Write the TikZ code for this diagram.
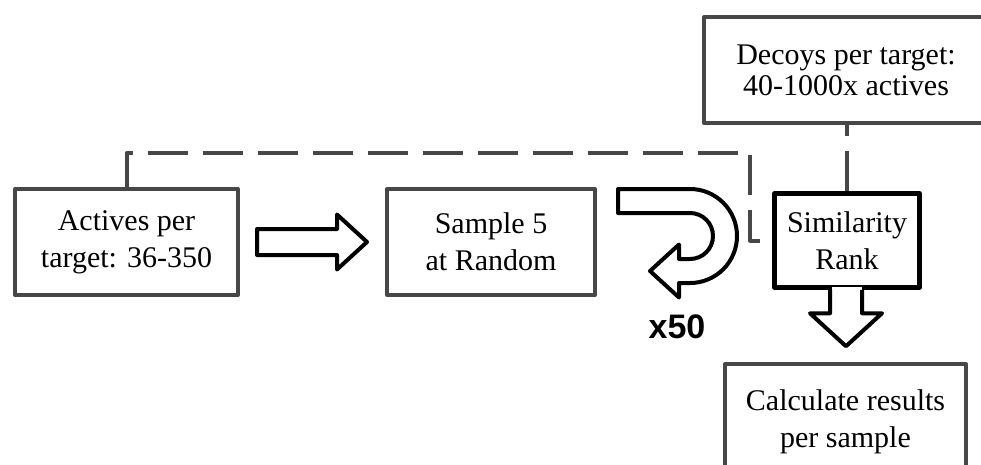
\documentclass[tikz,border=0pt]{standalone}
\usepackage{fontspec}
\setmainfont{Liberation Serif}
\newfontfamily\countfont{Liberation Sans}
\usetikzlibrary{calc}

\definecolor{boxgray}{HTML}{474747}

\begin{document}
\begin{tikzpicture}[x=1pt, y=-1pt, line join=round,
  box/.style={draw=boxgray, line width=4pt, align=center, inner sep=0pt,
    font=\fontsize{30}{37}\selectfont},
  link/.style={draw=boxgray, line width=4pt, dash pattern=on 40pt off 15pt},
  bigarrow/.style={draw=black, line width=4pt, fill=white}]
  \useasboundingbox (0,0) rectangle (981,464);
  \clip (0,0) rectangle (981,464);

  % the five boxes (two of them run off the page)
  \node[box, minimum width=223pt, minimum height=106pt] (actives) at (126.5,242) {Actives per\\target: 36-350};
  \node[box, minimum width=208pt, minimum height=106pt] (sample) at (491,242) {Sample 5\\at Random};
  \node[box, draw=black, line width=4.5pt, minimum width=145pt, minimum height=94pt] (simrank) at (847,240.5) {Similarity\\Rank};
  \node[box, minimum width=284pt, minimum height=106pt, font=\fontsize{30}{31}\selectfont] (decoys) at (846,70) {Decoys per target:\\40-1000x actives};
  \node[box, minimum width=241pt, minimum height=116pt] (results) at (845.5,422) {Calculate results\\per sample};

  % dashed links into the ranking
  \coordinate (bend) at ($(simrank.west)+(-22,0)$);
  \draw[link] (actives.north) -- ++(0,-34) -| (bend) -- (simrank.west);
  \draw[link] (simrank.north) -- (simrank.north |- decoys.south);

  % block arrow: actives -> sample
  \begin{scope}[shift={(actives.east)}]
    \draw[bigarrow] (17,-13) -- (97,-13) -- (97,-27.5) -- (127,0) -- (97,27.5) -- (97,13) -- (17,13) -- cycle;
  \end{scope}

  % repeat loop, 50 times
  \coordinate (loop) at (690,236);
  \begin{scope}[shift={(loop)}]
    \draw[bigarrow] (-72,-47) -- (0,-47) arc[start angle=-90, end angle=90, radius=47]
      -- (-11,47) -- (-11,61.5) -- (-40,35) -- (-11,8.5) -- (-11,23) -- (0,23)
      arc[start angle=90, end angle=-90, radius=23] -- (-72,-23) -- cycle;
  \end{scope}
  \node[font=\fontsize{34}{40}\countfont\bfseries] (times) at (677,327) {x50};

  % block arrow: ranking -> results
  \begin{scope}[shift={(simrank.south)}]
    \fill[white] (-15,-3) rectangle (15,3);
    \draw[bigarrow, fill=none] (-17,0) -- (-17,23.5) -- (-37,23.5) -- (-1,56.5) -- (35,23.5) -- (15,23.5) -- (15,0);
  \end{scope}
\end{tikzpicture}
\end{document}
